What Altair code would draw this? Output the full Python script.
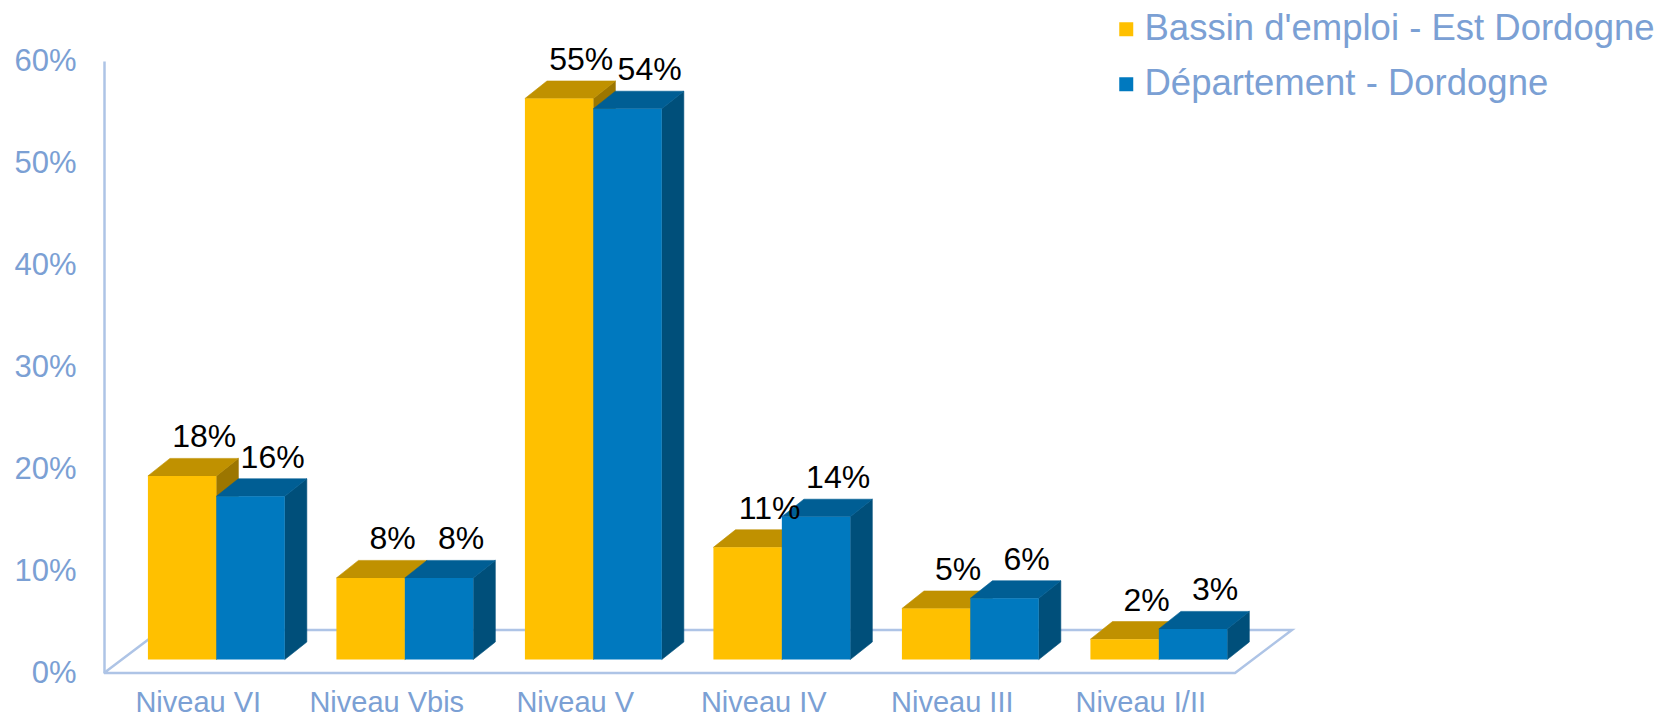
import altair as alt
import pandas as pd

# ---------------- data ----------------
categories = ["Niveau VI", "Niveau Vbis", "Niveau V", "Niveau IV", "Niveau III", "Niveau I/II"]
series_names = ["Bassin d'emploi - Est Dordogne", "Département - Dordogne"]
bassin = [18, 8, 55, 11, 5, 2]
departement = [16, 8, 54, 14, 6, 3]
y_ticks = [0, 10, 20, 30, 40, 50, 60]

# ---------------- styles ----------------
front_colors = ["#FFC000", "#0079BF"]
top_colors = ["#C09100", "#005E94"]
side_colors = ["#9C7600", "#004F7A"]
AXIS_TEXT = "#7BA0D4"
FLOOR_LINE = "#AEC4E6"
FONT = "Liberation Sans"

# layout constants (data units of the shared scales)
GROUP_START = 0.233
BAR_W = 0.363
DEPTH_X = 0.117
DEPTH_Y = 1.72
BASE = 1.32
FLOOR_DX = 0.302
FLOOR_DY = 4.22

xs = alt.Scale(domain=[0, len(categories)], nice=False, zero=False)
ys = alt.Scale(domain=[0, 60], nice=False, zero=False)
y_axis = alt.Axis(
    values=y_ticks, labelExpr="datum.value + '%'", title=None, grid=False,
    ticks=False, domainColor=FLOOR_LINE, domainWidth=2.5, labelColor=AXIS_TEXT,
    labelFontSize=31, labelFont=FONT, labelPadding=28)


def X(field, **kw):
    return alt.X(field, scale=xs, axis=None, **kw)


def Y(field, **kw):
    return alt.Y(field, scale=ys, axis=y_axis, **kw)


series_values = [bassin, departement]
front_tables, top_tables, side_tables = [], [], []
label_rows = []
for s, vals in enumerate(series_values):
    fr, tp, sd = [], [], []
    for i, v in enumerate(vals):
        xl = i + GROUP_START + s * BAR_W
        xr = xl + BAR_W
        yb = BASE
        yt = BASE + v
        bid = f"{s}-{i}"
        fr.append(dict(series=series_names[s], xl=xl, xr=xr, yb=yb, yt=yt))
        tp.append(dict(bid=bid, y=yt, xa=xl, xb=xr))
        tp.append(dict(bid=bid, y=yt + DEPTH_Y, xa=xl + DEPTH_X, xb=xr + DEPTH_X))
        sd.append(dict(bid=bid, x=xr, ya=yt, yb=yb))
        sd.append(dict(bid=bid, x=xr + DEPTH_X, ya=yt + DEPTH_Y, yb=yb + DEPTH_Y))
        label_rows.append(dict(x=xl + BAR_W / 2 + DEPTH_X, y=yt + DEPTH_Y, text=f"{v}%"))
    front_tables.append(pd.DataFrame(fr))
    top_tables.append(pd.DataFrame(tp))
    side_tables.append(pd.DataFrame(sd))

n = len(categories)
floor_df = pd.DataFrame(dict(
    fx=[0, n, n + FLOOR_DX, FLOOR_DX, 0],
    fy=[0, 0, FLOOR_DY, FLOOR_DY, 0],
    o=[0, 1, 2, 3, 4],
))
cat_df = pd.DataFrame(dict(cx=[i + 0.5 for i in range(n)], cy=[0] * n, name=categories))
labels_df = pd.DataFrame(label_rows)

# ---------------- layers ----------------
floor = alt.Chart(floor_df).mark_line(color=FLOOR_LINE, strokeWidth=2.5).encode(
    x=X("fx:Q"),
    y=Y("fy:Q"),
    order="o:Q",
)

layers = [floor]
for s in range(2):
    side = alt.Chart(side_tables[s]).mark_area(
        color=side_colors[s], opacity=1, stroke=side_colors[s], strokeWidth=0.6
    ).encode(
        x=X("x:Q"),
        y=Y("ya:Q", stack=None),
        y2="yb:Q",
        detail="bid:N",
    )
    top = alt.Chart(top_tables[s]).mark_area(
        orient="horizontal", color=top_colors[s], opacity=1, stroke=top_colors[s], strokeWidth=0.6
    ).encode(
        y=Y("y:Q"),
        x=X("xa:Q", stack=None),
        x2="xb:Q",
        detail="bid:N",
    )
    front = alt.Chart(front_tables[s]).mark_rect(opacity=1).encode(
        x=X("xl:Q"),
        x2="xr:Q",
        y=Y("yb:Q"),
        y2="yt:Q",
        color=alt.Color("series:N", scale=alt.Scale(domain=series_names, range=front_colors),
                        legend=alt.Legend(
                            title=None, orient="none", legendX=1004, legendY=-50,
                            symbolType="square", symbolSize=196, symbolStrokeWidth=0,
                            labelFontSize=36.5, labelColor=AXIS_TEXT, labelFont=FONT,
                            labelLimit=1000, rowPadding=18, labelOffset=0, padding=0)),
    )
    layers += [side, top, front]

value_labels = alt.Chart(labels_df).mark_text(
    fontSize=32, font=FONT, color="#000000", dy=-21, baseline="middle", align="center"
).encode(
    x=X("x:Q"),
    y=Y("y:Q"),
    text="text:N",
)

cat_labels = alt.Chart(cat_df).mark_text(
    fontSize=29, font=FONT, color=AXIS_TEXT, dy=30, baseline="middle", align="center"
).encode(
    x=X("cx:Q"),
    y=Y("cy:Q"),
    text="name:N",
)

layers += [value_labels, cat_labels]

chart = alt.layer(*layers).properties(
    width=1131,
    height=612,
    padding={"left": 96, "top": 53, "right": 430, "bottom": 44},
    autosize=alt.AutoSizeParams(type="none"),
    background="white",
).configure_view(stroke=None)

chart.save("out.html", embed_options={"renderer": "svg", "actions": False})
